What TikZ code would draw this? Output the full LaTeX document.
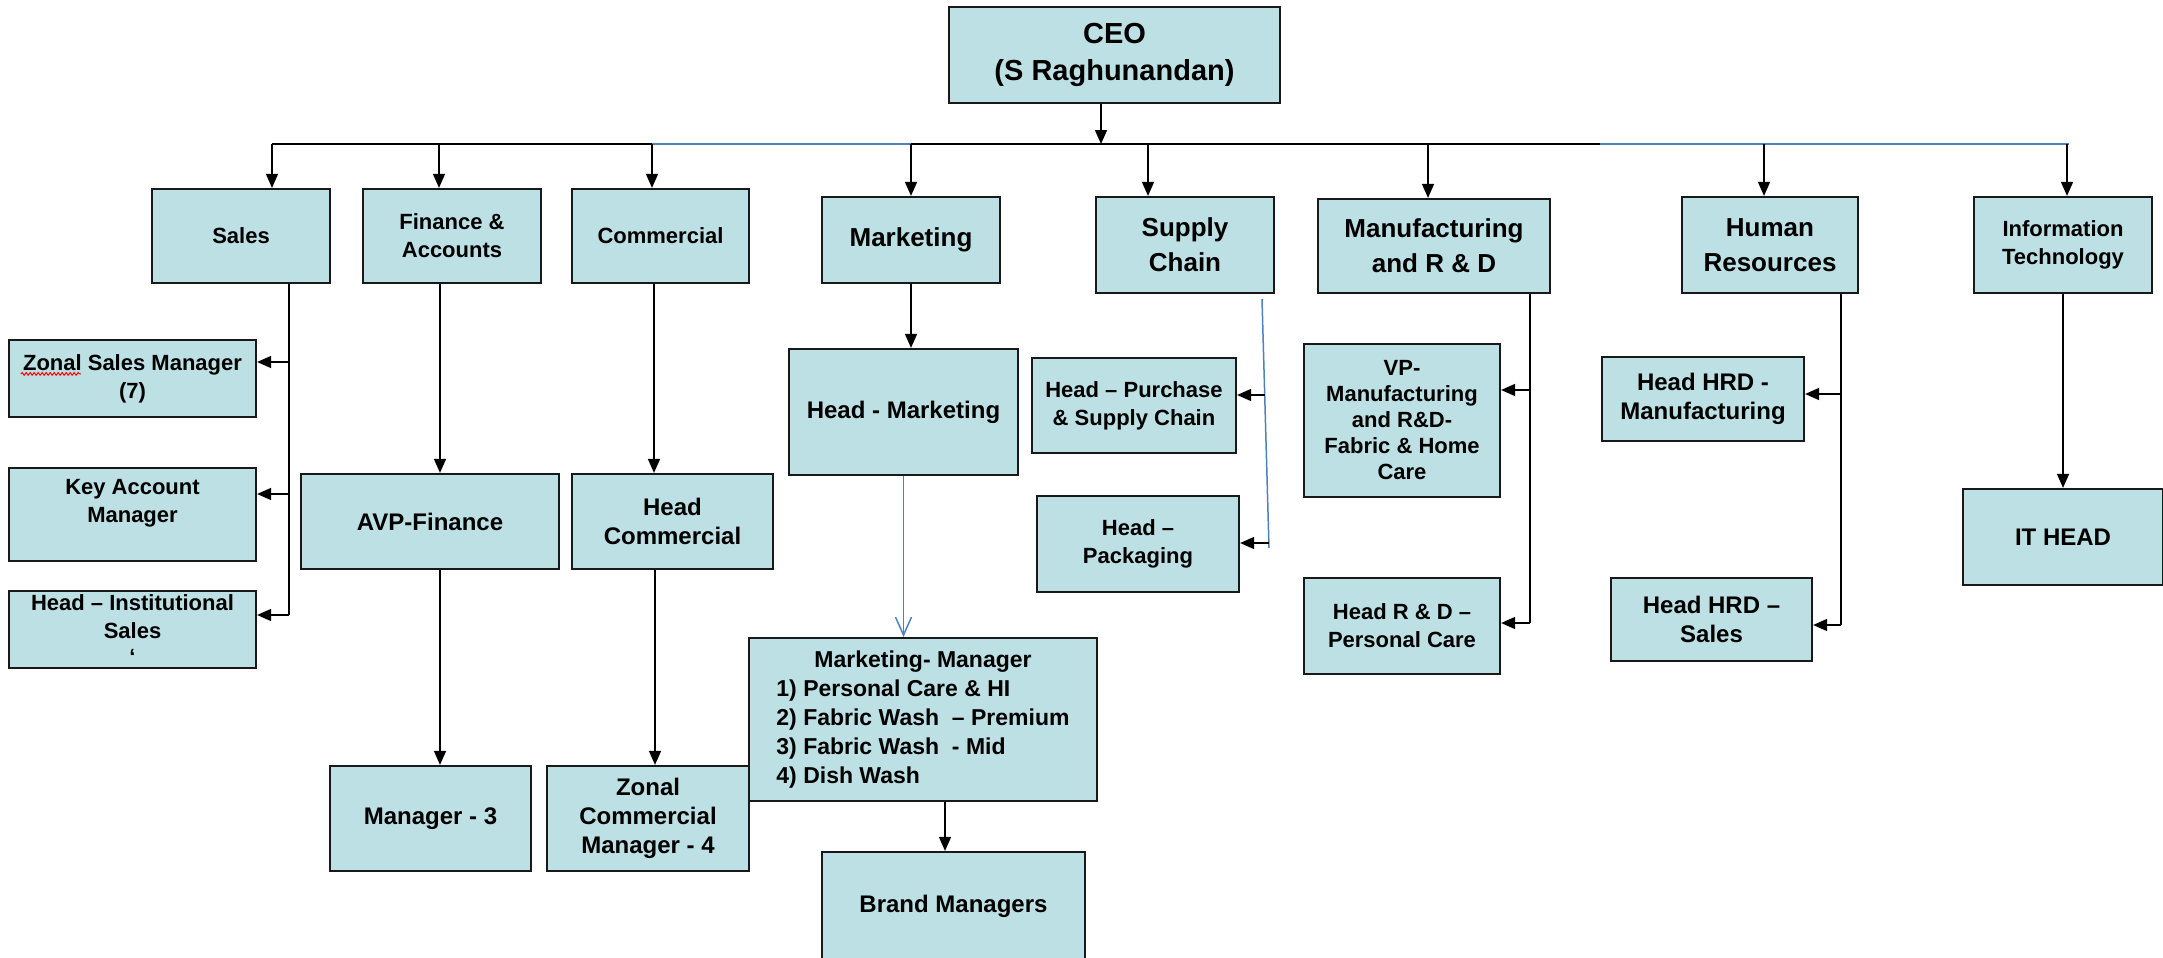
\documentclass[tikz,border=0pt]{standalone}
\usepackage{fontspec}
\setmainfont{Liberation Sans}
\usetikzlibrary{arrows.meta,decorations.pathmorphing}
\definecolor{boxfill}{RGB}{188,224,227}
\definecolor{linkblue}{RGB}{79,129,189}
\tikzset{
  box/.style={draw=black!90, fill=boxfill, line width=2.2pt, inner sep=0pt, align=center, font=\bfseries\fontsize{22}{28}\selectfont},
  big/.style={font=\bfseries\fontsize{26}{35}\selectfont},
  mid/.style={font=\bfseries\fontsize{24}{29}\selectfont},
  sz/.style 2 args={minimum width=#1, minimum height=#2},
  link/.style={line width=1.5pt},
  arr/.style={link, -{Triangle[length=14pt,width=12pt]}},
  bluelink/.style={line width=1.5pt, draw=linkblue}
}
\begin{document}
\begin{tikzpicture}[x=1pt,y=-1pt]
\useasboundingbox (0,0) rectangle (2163,958);
\clip (0,0) rectangle (2163,958);
\node[box, font=\bfseries\fontsize{29}{37}\selectfont, sz={331}{96}] (ceo) at (1114.5,55) {CEO\\(S Raghunandan)};
\node[box, sz={178}{94}] (sales) at (241,236) {Sales};
\node[box, sz={178}{94}] (fin) at (452,236) {Finance \&\\Accounts};
\node[box, sz={177}{94}] (comm) at (660.5,236) {Commercial};
\node[box, big, sz={178}{86}] (mkt) at (911,240) {Marketing};
\node[box, big, sz={178}{96}] (sc) at (1185,245) {Supply\\Chain};
\node[box, big, sz={232}{94}] (mfg) at (1434,246) {Manufacturing\\and R \& D};
\node[box, big, sz={176}{96}] (hr) at (1770,245) {Human\\Resources};
\node[box, sz={178}{96}] (it) at (2063,245) {Information\\Technology};
\node[box, sz={247}{77}] (zsm) at (132.5,378.5) {Zonal Sales Manager\\(7)};
\node[box, sz={247}{93}] (kam) at (132.5,514.5) {Key Account\\Manager\\~};
\node[box, sz={247}{77}] (his) at (132.5,629.5) {Head – Institutional\\Sales\\[-2pt]`};
\node[box, mid, sz={258}{95}] (avp) at (430,521.5) {AVP-Finance};
\node[box, mid, sz={201}{95}] (hcomm) at (672.5,521.5) {Head\\Commercial};
\node[box, mid, sz={201}{105}] (mgr3) at (430.5,818.5) {Manager - 3};
\node[box, mid, sz={202}{105}] (zcm) at (648,818.5) {Zonal\\Commercial\\Manager - 4};
\node[box, mid, sz={229}{126}] (hmkt) at (903.5,412) {Head - Marketing};
\node[box, font=\bfseries\fontsize{23}{29}\selectfont, sz={348}{163}] (mm) at (923,719.5) {\begin{tabular}{@{}l@{}}\multicolumn{1}{@{}c@{}}{Marketing- Manager}\\1) Personal Care \& HI\\2) Fabric Wash~ – Premium\\3) Fabric Wash~ - Mid\\4) Dish Wash\end{tabular}};
\node[box, mid, sz={263}{108}] (brand) at (953.5,906) {Brand Managers};
\node[box, sz={204}{95}] (hps) at (1134,405.5) {Head – Purchase\\\& Supply Chain};
\node[box, sz={202}{96}] (hpk) at (1138,544) {Head –\\Packaging};
\node[box, font=\bfseries\fontsize{22}{26}\selectfont, sz={196}{153}] (vp) at (1402,420.5) {VP-\\Manufacturing\\and R\&D-\\Fabric \& Home\\Care};
\node[box, sz={196}{96}] (hrd) at (1402,626) {Head R \& D –\\Personal Care};
\node[box, mid, sz={202}{84}] (hhm) at (1703,399) {Head HRD -\\Manufacturing};
\node[box, mid, sz={201}{83}] (hhs) at (1711.5,619.5) {Head HRD –\\Sales};
\node[box, mid, sz={200}{96}] (ithead) at (2063,537) {IT HEAD};
\draw[red, line width=1pt, decorate, decoration={snake, amplitude=1.3pt, segment length=4pt}] ([shift={(13,35)}]zsm.north west) -- ([shift={(73,35)}]zsm.north west);
% top bus
\coordinate (bus) at (0,144);
\draw[link] (272,0 |- bus) -- (2069,0 |- bus);
\draw[bluelink] (652,0 |- bus) -- (911,0 |- bus);
\draw[bluelink] (1600,0 |- bus) -- (2069,0 |- bus);
\draw[arr] (ceo.south -| 1101,0) -- (1101,0 |- bus);
\foreach \n/\x in {sales/272,fin/439,comm/652,mkt/911,sc/1148,mfg/1428,hr/1764,it/2067}
  \draw[arr] (\x,0 |- bus) -- (\x,0 |- \n.north);
% sales
\draw[link] (sales.south -| 289,0) -- (289,615);
\draw[arr] (289,362) -- (zsm.east |- 0,362);
\draw[arr] (289,494) -- (kam.east |- 0,494);
\draw[arr] (289,615) -- (his.east |- 0,615);
% finance, commercial
\draw[arr] (fin.south -| 440,0) -- (avp.north -| 440,0);
\draw[arr] (avp.south -| 440,0) -- (mgr3.north -| 440,0);
\draw[arr] (comm.south -| 654,0) -- (hcomm.north -| 654,0);
\draw[arr] (hcomm.south -| 655,0) -- (zcm.north -| 655,0);
% marketing
\draw[arr] (mkt.south) -- (mkt.south |- hmkt.north);
\draw[bluelink, -{Straight Barb[length=18pt,width=16pt]}] (hmkt.south) -- (hmkt.south |- mm.north);
\draw[arr] (mm.south -| 945,0) -- (brand.north -| 945,0);
% supply chain
\draw[bluelink] (1262,299) -- (1269,548);
\draw[arr] (1265,395) -- (hps.east |- 0,395);
\draw[arr] (1269,543) -- (hpk.east |- 0,543);
% manufacturing
\draw[link] (mfg.south -| 1530,0) -- (1530,623);
\draw[arr] (1530,390) -- (vp.east |- 0,390);
\draw[arr] (1530,623) -- (hrd.east |- 0,623);
% hr, it
\draw[link] (hr.south -| 1841,0) -- (1841,625);
\draw[arr] (1841,394) -- (hhm.east |- 0,394);
\draw[arr] (1841,625) -- (hhs.east |- 0,625);
\draw[arr] (it.south) -- (it.south |- ithead.north);
\end{tikzpicture}
\end{document}
